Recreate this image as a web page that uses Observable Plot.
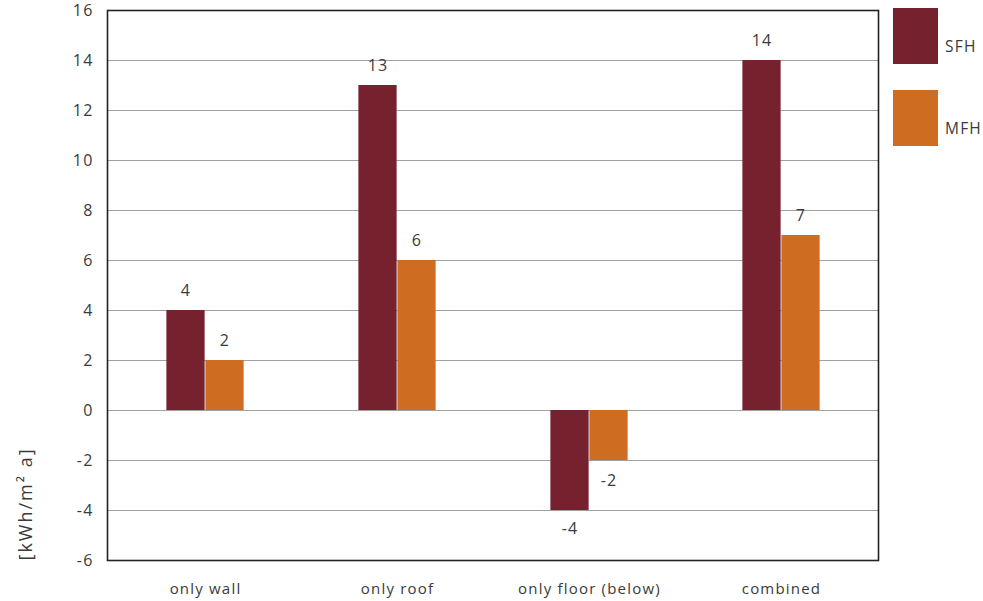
<!DOCTYPE html>
<html>
<head>
<meta charset="utf-8">
<script src="https://cdn.jsdelivr.net/npm/d3@7"></script>
<script src="https://cdn.jsdelivr.net/npm/@observablehq/plot@0.6"></script>
<style>
  html, body { margin: 0; padding: 0; background: #fff; }
  #wrap { position: relative; width: 983px; height: 601px; font-family: "Open Sans", sans-serif; overflow: hidden; }
  .legend { position: absolute; left: 893px; }
  .legend .sw { position: absolute; left: 0; width: 45px; height: 56px; }
  .legend .lab { position: absolute; left: 52px; font-size: 15.5px; letter-spacing: 1.2px; color: #3a3a3a; white-space: nowrap; }
  .ylab { letter-spacing: 2px; }
</style>
</head>
<body>
<div id="wrap"></div>
<script>
const categories = ["only wall", "only roof", "only floor (below)", "combined"];
const series = ["SFH", "MFH"];
const sfhValues = [4, 13, -4, 14];
const mfhValues = [2, 6, -2, 7];
const colors = ["#76222e", "#ce6d22"];
const yTicks = [-6, -4, -2, 0, 2, 4, 6, 8, 10, 12, 14, 16];
const yLabel = "[kWh/m² a]";

const data = [];
categories.forEach((c, i) => {
  data.push({category: c, series: "SFH", value: sfhValues[i]});
  data.push({category: c, series: "MFH", value: mfhValues[i]});
});

const W = 983, H = 601, mL = 107, mR = 105, mT = 10, mB = 41;
const step = (W - mL - mR) / categories.length;
const barW = 39;
const inner = step / 2 - barW; // inset for the far side of each bar

const textColor = "#3a3a3a";
const numFont = 16;
const txtFont = 15;
const fmt = d => String(d);

const chart = Plot.plot({
  width: W,
  height: H,
  marginLeft: mL,
  marginRight: mR,
  marginTop: mT,
  marginBottom: mB,
  style: {fontFamily: "'Open Sans', sans-serif", fontSize: txtFont + "px", color: textColor, background: "#fff", letterSpacing: "1.2px", overflow: "visible"},
  x: {domain: categories, padding: 0, label: null},
  y: {domain: [-6, 16], label: null},
  color: {domain: series, range: colors},
  marks: [
    Plot.ruleY(yTicks.filter(t => t > -6 && t < 16), {stroke: "#a0a0a0", strokeWidth: 1.2}),
    Plot.barY(data.filter(d => d.series === "SFH"), {x: "category", y: "value", fill: "series", insetLeft: inner, insetRight: step / 2}),
    Plot.barY(data.filter(d => d.series === "MFH"), {x: "category", y: "value", fill: "series", insetLeft: step / 2, insetRight: inner}),
    Plot.text(data.filter(d => d.series === "SFH" && d.value >= 0), {x: "category", y: "value", text: d => fmt(d.value), dx: -barW / 2, dy: -20, fill: textColor, fontSize: numFont}),
    Plot.text(data.filter(d => d.series === "MFH" && d.value >= 0), {x: "category", y: "value", text: d => fmt(d.value), dx: barW / 2, dy: -20, fill: textColor, fontSize: numFont}),
    Plot.text(data.filter(d => d.series === "SFH" && d.value < 0), {x: "category", y: "value", text: d => fmt(d.value), dx: -barW / 2, dy: 18, fill: textColor, fontSize: numFont}),
    Plot.text(data.filter(d => d.series === "MFH" && d.value < 0), {x: "category", y: "value", text: d => fmt(d.value), dx: barW / 2, dy: 20, fill: textColor, fontSize: numFont}),
    Plot.axisY({ticks: yTicks, tickFormat: fmt, tickSize: 0, tickPadding: 14, label: null, fontSize: numFont, fill: textColor}),
    Plot.axisX({tickSize: 0, tickPadding: 23, label: null, fontSize: txtFont, fill: textColor}),
    Plot.text([yLabel], {frameAnchor: "bottom-left", rotate: -90, textAnchor: "start", dx: -76, dy: 0, fill: textColor, fontSize: 18, className: "ylab"}),
    Plot.frame({stroke: "#222", strokeWidth: 1.6})
  ]
});

const wrap = document.getElementById("wrap");
wrap.appendChild(chart);

const legendTops = [8, 90];
series.forEach((s, i) => {
  const g = document.createElement("div");
  g.className = "legend";
  g.style.top = legendTops[i] + "px";
  const sw = document.createElement("div");
  sw.className = "sw";
  sw.style.background = colors[i];
  const lab = document.createElement("div");
  lab.className = "lab";
  lab.style.top = "27px";
  lab.textContent = s;
  g.appendChild(sw);
  g.appendChild(lab);
  wrap.appendChild(g);
});
</script>
</body>
</html>
